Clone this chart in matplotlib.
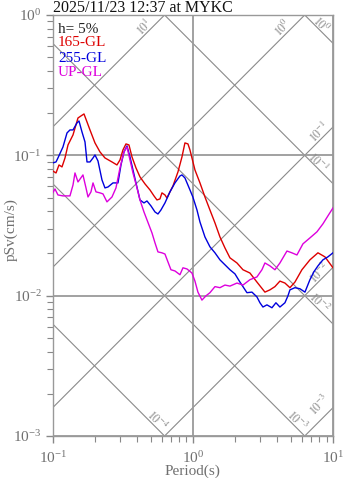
import numpy as np
import matplotlib
matplotlib.use("Agg")
import matplotlib.pyplot as plt
from matplotlib.ticker import LogLocator, LogFormatterSciNotation, NullFormatter

plt.rcParams['font.family'] = ['Liberation Serif', 'DejaVu Serif']
plt.rcParams['mathtext.fontset'] = 'stix'
plt.rcParams['mathtext.default'] = 'rm'

# pseudo velocity response spectra, h = 5%
period_165 = [0.100, 0.1056, 0.1109, 0.1165, 0.1224, 0.1286, 0.1396, 0.1515, 0.1592, 0.1672,
              0.1757, 0.1845, 0.2003, 0.2175, 0.236, 0.2649, 0.2874, 0.302, 0.3172, 0.3333,
              0.3501, 0.3679, 0.3929, 0.4195, 0.4553, 0.4943, 0.528, 0.5545, 0.5824, 0.6019,
              0.6324, 0.6533, 0.6864, 0.7213, 0.7831, 0.8362, 0.878, 0.9228, 0.9535, 1.035,
              1.124, 1.22, 1.324, 1.438, 1.561, 1.694, 1.84, 2.064, 2.278, 2.555,
              2.866, 3.268, 3.548, 3.852, 4.181, 4.54, 4.928, 5.35, 6.0, 6.846,
              7.808, 8.761, 10.0]
psv_165 = [0.0774, 0.0749, 0.0854, 0.0827, 0.0958, 0.1186, 0.1398, 0.1846, 0.1909, 0.1972,
           0.1729, 0.1517, 0.1226, 0.1057, 0.0958, 0.0897, 0.0854, 0.0927, 0.1093, 0.1206,
           0.1186, 0.0974, 0.0813, 0.0702, 0.0626, 0.0567, 0.0514, 0.0481, 0.0489, 0.054,
           0.0522, 0.0497, 0.0549, 0.0605, 0.0762, 0.0974, 0.1226, 0.1206, 0.1093, 0.0787,
           0.0636, 0.0505, 0.0408, 0.033, 0.0262, 0.0219, 0.0186, 0.0171, 0.0153, 0.0145,
           0.0125, 0.0106, 0.011, 0.0116, 0.0127, 0.0123, 0.0114, 0.0125, 0.0153, 0.018,
           0.0202, 0.0189, 0.0158]

period_255 = [0.100, 0.1056, 0.109, 0.1184, 0.1265, 0.1328, 0.1396, 0.149, 0.154, 0.1618,
              0.170, 0.1757, 0.1845, 0.1939, 0.2003, 0.2104, 0.2247, 0.236, 0.248, 0.2692,
              0.2922, 0.3071, 0.3225, 0.3388, 0.356, 0.3739, 0.3929, 0.4195, 0.4479, 0.4706,
              0.5026, 0.5368, 0.5637, 0.5921, 0.6324, 0.6864, 0.7452, 0.8091, 0.8362, 0.878,
              0.9535, 1.0, 1.07, 1.124, 1.22, 1.324, 1.438, 1.561, 1.694, 1.84,
              1.997, 2.168, 2.278, 2.432, 2.64, 2.866, 3.011, 3.163, 3.378, 3.667,
              3.915, 4.181, 4.54, 4.77, 4.928, 5.35, 5.809, 6.307, 6.846, 7.307,
              7.808, 8.477, 9.196, 10.0]
psv_255 = [0.0883, 0.0897, 0.0958, 0.1148, 0.1444, 0.1517, 0.1517, 0.1702, 0.1758, 0.1468,
           0.1246, 0.0897, 0.0897, 0.0958, 0.1006, 0.0912, 0.0668, 0.0586, 0.0595, 0.0636,
           0.0636, 0.0854, 0.1057, 0.1167, 0.0974, 0.0787, 0.0636, 0.0481, 0.0458, 0.0473,
           0.0436, 0.0395, 0.0382, 0.0408, 0.0458, 0.0549, 0.0636, 0.0713, 0.0725, 0.069,
           0.0567, 0.0505, 0.0408, 0.0335, 0.0262, 0.0223, 0.0202, 0.018, 0.0166, 0.0153,
           0.0143, 0.0125, 0.0116, 0.0105, 0.0106, 0.0098, 0.0089, 0.0083, 0.0086, 0.0082,
           0.0089, 0.0083, 0.0089, 0.00997, 0.011, 0.0114, 0.0112, 0.0106, 0.013, 0.0148,
           0.0163, 0.018, 0.0189, 0.0202]

period_up = [0.100, 0.1038, 0.109, 0.1184, 0.1328, 0.1396, 0.1442, 0.1515, 0.1644, 0.1728,
             0.1786, 0.1875, 0.1939, 0.2036, 0.2175, 0.2285, 0.2439, 0.2649, 0.2828, 0.302,
             0.3225, 0.3388, 0.356, 0.3739, 0.3994, 0.4195, 0.4479, 0.4706, 0.5109, 0.5368,
             0.5637, 0.6019, 0.6324, 0.6642, 0.6978, 0.7452, 0.8091, 0.8501, 0.9078, 0.9854,
             1.035, 1.087, 1.161, 1.24, 1.324, 1.438, 1.561, 1.694, 1.84, 2.064,
             2.278, 2.555, 2.866, 3.111, 3.268, 3.548, 3.852, 4.181, 4.692, 5.09,
             5.529, 6.103, 6.846, 7.68, 8.477, 9.196, 10.0]
psv_up = [0.054, 0.0576, 0.0522, 0.0514, 0.0514, 0.0615, 0.0749, 0.0646, 0.0725, 0.0586,
          0.0505, 0.0549, 0.0636, 0.0549, 0.054, 0.0531, 0.0466, 0.0505, 0.0586, 0.0813,
          0.1057, 0.1148, 0.0927, 0.0749, 0.0586, 0.0481, 0.0395, 0.0347, 0.028, 0.0238,
          0.0205, 0.0202, 0.0198, 0.0174, 0.0153, 0.015, 0.0141, 0.0158, 0.0155, 0.0145,
          0.0127, 0.0106, 0.0093, 0.00997, 0.0105, 0.0116, 0.0114, 0.0119, 0.0117, 0.0123,
          0.0119, 0.013, 0.0136, 0.0153, 0.0171, 0.0163, 0.0153, 0.0171, 0.0208, 0.0202,
          0.0195, 0.0234, 0.0258, 0.0285, 0.0325, 0.037, 0.0422]

# tripartite guide lines: constant acceleration (cm/s^2) and displacement (cm)
accel_levels = [10, 1, 0.1, 0.01, 0.001]
accel_label_period = [0.455, 4.39, 8.07, 8.07, 8.07]
accel_label_shift = [7.5, 8.5, 8, 7, 16]
disp_levels = [1, 0.1, 0.01, 0.001, 0.0001]
disp_label_period = [8.2, 7.81, 7.94, 5.53, 0.555]
disp_label_shift = [7, 6.5, 7, 8, 7.5]

GRAY = '#707070'

fig = plt.figure(figsize=(3.47, 4.78), dpi=100)
ax = fig.add_axes([52.7 / 347, 1 - 436 / 478, 280.3 / 347, 421 / 478])
ax.set_xscale('log')
ax.set_yscale('log')
ax.set_xlim(0.1, 10)
ax.set_ylim(0.001, 1)

tt = np.logspace(-1, 1, 200)
for sa, tl, dy in zip(accel_levels, accel_label_period, accel_label_shift):
    ax.plot(tt, sa * tt / (2 * np.pi), color='#8a8a8a', lw=0.8, zorder=1)
    ax.annotate(r'$10^{%d}$' % round(np.log10(sa)),
                xy=(tl, sa * tl / (2 * np.pi)), xytext=(0, dy), textcoords='offset pixels',
                rotation=45, ha='center', va='center', rotation_mode='anchor',
                fontsize=8.5, color='#8a8a8a', annotation_clip=False)
for sd, tl, dy in zip(disp_levels, disp_label_period, disp_label_shift):
    ax.plot(tt, 2 * np.pi * sd / tt, color='#8a8a8a', lw=0.8, zorder=1)
    ax.annotate(r'$10^{%d}$' % round(np.log10(sd)),
                xy=(tl, 2 * np.pi * sd / tl), xytext=(0, dy), textcoords='offset pixels',
                rotation=-45, ha='center', va='center', rotation_mode='anchor',
                fontsize=8.5, color='#8a8a8a', annotation_clip=False)

ax.grid(True, which='major', color='#9a9a9a', lw=1.3, zorder=1)

ax.plot(period_165, psv_165, color='#dd0000', lw=1.0, zorder=3)
ax.plot(period_255, psv_255, color='#0000dd', lw=1.0, zorder=3)
ax.plot(period_up, psv_up, color='#dd00dd', lw=1.0, zorder=3)

ax.text(0.019, 0.9667, 'h= 5%', transform=ax.transAxes, color='#222222', fontsize=11, va='center')
ax.text(0.019, 0.9335, '165-GL', transform=ax.transAxes, color='#dd0000', fontsize=11, va='center')
ax.text(0.019, 0.8955, '255-GL', transform=ax.transAxes, color='#0000dd', fontsize=11, va='center')
ax.text(0.019, 0.8646, 'UP-GL', transform=ax.transAxes, color='#dd00dd', fontsize=11, va='center')

for sp in ax.spines.values():
    sp.set_color('#999999')
    sp.set_linewidth(1.0)

ax.xaxis.set_major_locator(LogLocator(base=10, numticks=10))
ax.yaxis.set_major_locator(LogLocator(base=10, numticks=10))
ax.xaxis.set_minor_locator(LogLocator(base=10, subs=np.arange(2, 10), numticks=10))
ax.yaxis.set_minor_locator(LogLocator(base=10, subs=np.arange(2, 10), numticks=10))
ax.xaxis.set_major_formatter(LogFormatterSciNotation())
ax.yaxis.set_major_formatter(LogFormatterSciNotation())
ax.xaxis.set_minor_formatter(NullFormatter())
ax.yaxis.set_minor_formatter(NullFormatter())
ax.tick_params(which='both', direction='out', color='#888888', labelcolor=GRAY, labelsize=11)
ax.tick_params(which='major', length=5, width=1.0)
ax.tick_params(which='minor', length=4, width=0.8)
ax.tick_params(axis='x', which='major', pad=5)
ax.tick_params(axis='y', which='major', pad=3)

ax.set_xlabel('Period(s)', color=GRAY, fontsize=11)
ax.set_ylabel('pSv(cm/s)', color=GRAY, fontsize=11)
ax.xaxis.set_label_coords(0.5, -0.068)
ax.yaxis.set_label_coords(-0.124, 0.49)

# station/time header, flush with the top edge
fig.text(53 / 347, 1.0, '2025/11/23 12:37 at MYKC', ha='left', va='top',
         fontsize=11.5, color='#111111')

fig.savefig('out.png', dpi=100)
